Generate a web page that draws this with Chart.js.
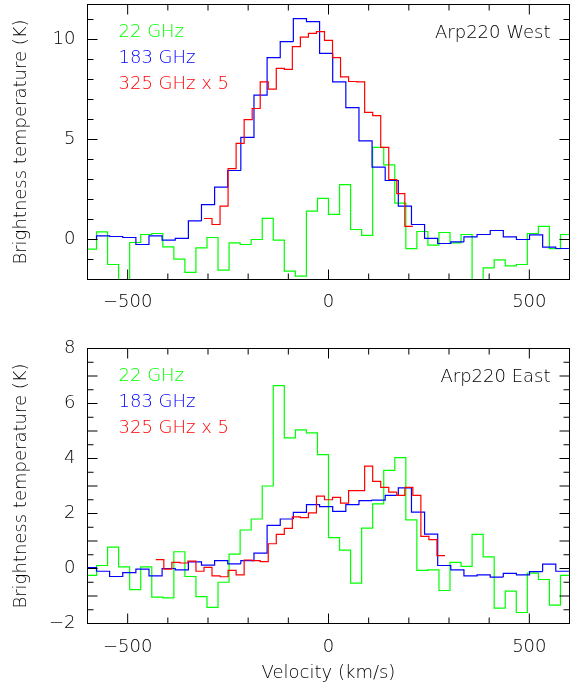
<!DOCTYPE html>
<html>
<head>
<meta charset="utf-8">
<script src="https://cdn.jsdelivr.net/npm/chart.js@4.4.0/dist/chart.umd.min.js"></script>
<style>
html,body{margin:0;padding:0;background:#fff;}
#wrap{position:relative;width:577px;height:688px;}
.cv{position:absolute;left:0;}
</style>
</head>
<body>
<div id="wrap">
<canvas id="west" class="cv" width="577" height="330" style="top:0px"></canvas>
<canvas id="east" class="cv" width="577" height="358" style="top:330px"></canvas>
</div>
<script>
// ---------------- DATA ----------------
const seriesLabels = ['22 GHz', '183 GHz', '325 GHz x 5'];
const panelTitles = ['Arp220 West', 'Arp220 East'];
const xTickLabels = [-500, 0, 500];
const yTickLabelsWest = [0, 5, 10];
const yTickLabelsEast = [-2, 0, 2, 4, 6, 8];
const yAxisTitle = 'Brightness temperature (K)';
const xAxisTitle = 'Velocity (km/s)';

// channel centres (km/s)
const velocity22 = [-591.25, -563.75, -536.25, -508.75, -481.25, -453.75, -426.25, -398.75, -371.25, -343.75,
  -316.25, -288.75, -261.25, -233.75, -206.25, -178.75, -151.25, -123.75, -96.25, -68.75,
  -41.25, -13.75, 13.75, 41.25, 68.75, 96.25, 123.75, 151.25, 178.75, 206.25,
  233.75, 261.25, 288.75, 316.25, 343.75, 371.25, 398.75, 426.25, 453.75, 481.25,
  508.75, 536.25, 563.75, 591.25];
const velocity183 = [-593.9, -561.2, -528.6, -495.9, -463.2, -430.6, -397.9, -365.2, -332.5, -299.9,
  -267.2, -234.5, -201.9, -169.2, -136.5, -103.8, -71.2, -38.5, -5.8, 26.8,
  59.5, 92.2, 124.8, 157.5, 190.2, 222.9, 255.5, 288.2, 320.9, 353.5,
  386.2, 418.9, 451.5, 484.2, 516.9, 549.5, 582.2];
const velocity325West = [-300, -280, -260, -240, -220, -200, -180, -160, -140, -120,
  -100, -80, -60, -40, -20, 0, 20, 40, 60, 80, 100, 120, 140, 160, 180, 200];
const velocity325East = [-420, -400, -380, -360, -340, -320, -300, -280, -260, -240,
  -220, -200, -180, -160, -140, -120, -100, -80, -60, -40, -20, 0, 20, 40, 60,
  80, 100, 120, 140, 160, 180, 200, 220, 240, 260, 280];

// brightness temperatures (K)
const west22 = [-0.48, 0.38, -1.25, -2.6, -0.15, 0.25, 0.3, -0.37, -0.98, -1.64,
  -0.42, 0.1, -1.53, -0.17, -0.25, 0.0, 1.06, -0.03, -1.58, -1.83,
  1.42, 2.06, 1.26, 2.74, 0.5, 0.21, 4.61, 3.73, 1.82, -0.46,
  0.4, -0.28, 0.35, -0.17, 0.25, -2.6, -1.42, -1.02, -1.32, -1.25,
  0.3, 0.66, -0.46, 0.25];
const west183 = [0.0, 0.18, 0.15, 0.1, -0.25, 0.18, -0.03, 0.06, 0.93, 1.74,
  2.62, 3.45, 5.11, 7.22, 9.09, 9.89, 11.04, 10.89, 9.31, 7.88,
  6.59, 4.93, 3.62, 2.95, 1.67, 0.75, 0.06, -0.2, -0.12, 0.13,
  0.25, 0.45, 0.13, 0.0, 0.23, -0.38, -0.45];
const west325x5 = [1.05, 0.75, 1.67, 3.54, 4.81, 5.99, 6.55, 7.88, 7.52, 8.56,
  8.51, 9.64, 10.12, 10.31, 10.39, 9.96, 9.09, 8.13, 7.9, 7.88,
  6.36, 6.19, 4.61, 3.0, 2.29, 0.66];

const east22 = [-0.25, 0.11, 0.78, 0.06, -0.77, 0.06, -1.04, -1.07, 0.61, -0.29,
  -1.02, -1.41, -0.5, 0.52, 1.4, 1.8, 3.0, 6.65, 4.75, 5.04,
  4.93, 4.14, 1.12, 0.67, -0.53, 1.47, 2.35, 3.57, 4.03, 1.77,
  -0.07, -0.05, -0.8, 0.22, 0.08, 1.24, 0.42, -1.44, -0.82, -1.6,
  -0.17, -0.4, -1.33, -0.25];
const east183 = [0.03, -0.1, -0.29, -0.15, -0.02, -0.27, 0.0, -0.05, 0.24, 0.12,
  0.29, 0.17, 0.29, 0.56, 1.57, 1.8, 2.04, 2.32, 2.25, 2.08,
  2.32, 2.47, 2.49, 2.66, 2.93, 2.05, 1.25, 0.11, -0.05, -0.27,
  -0.23, -0.31, -0.18, -0.23, -0.11, 0.16, -0.1];
const east325x5 = [0.32, -0.02, 0.22, 0.2, 0.27, -0.1, 0.04, -0.27, -0.3, -0.07,
  -0.23, 0.31, 0.29, 0.25, 0.9, 1.24, 1.46, 1.88, 1.85, 2.02,
  2.63, 2.5, 2.59, 2.38, 2.83, 2.83, 3.72, 3.17, 2.95, 2.78,
  2.66, 2.95, 2.66, 1.17, 1.05, 0.47];

// ---------------- RENDERING ----------------
const FONT_FAMILY = "'DejaVu Sans', sans-serif";
const FONT_WEIGHT = 200;
const TEXT_COLOR = '#000';
const seriesColors = ['#00ff00', '#0000ff', '#ff0000'];

// histogram outline: each channel contributes its two edges
function histogram(centres, values) {
  const w = centres[1] - centres[0];
  const pts = [];
  centres.forEach((c, i) => {
    pts.push({x: c - w / 2, y: values[i]});
    pts.push({x: c + w / 2, y: values[i]});
  });
  return pts;
}

function fmt(v) {
  return v < 0 ? '\u2212' + Math.abs(v) : String(v);
}

function isMajor(v, major) {
  const r = v / major;
  return Math.abs(r - Math.round(r)) < 1e-6;
}

const panelPlugin = {
  id: 'panel',
  afterDatasetsDraw(chart, args, opts) {
    const ctx = chart.ctx;
    const a = chart.chartArea;
    const xs = chart.scales.x, ys = chart.scales.y;
    ctx.save();
    ctx.strokeStyle = '#000';
    ctx.lineWidth = 1;
    ctx.strokeRect(a.left, a.top, a.right - a.left, a.bottom - a.top);
    ctx.beginPath();
    // x ticks, inward on bottom and top
    for (let i = Math.ceil(xs.min / opts.xStep); i * opts.xStep <= xs.max + 1e-9; i++) {
      const v = i * opts.xStep;
      const px = xs.getPixelForValue(v);
      const len = isMajor(v, opts.xMajor) ? 10 : 6;
      ctx.moveTo(px, a.bottom); ctx.lineTo(px, a.bottom - len);
      ctx.moveTo(px, a.top); ctx.lineTo(px, a.top + len);
    }
    // y ticks, inward on left and right
    for (let i = Math.ceil(ys.min / opts.yStep - 1e-9); i * opts.yStep <= ys.max + 1e-9; i++) {
      const v = i * opts.yStep;
      const py = ys.getPixelForValue(v);
      const len = isMajor(v, opts.yMajor) ? 10 : 6;
      ctx.moveTo(a.left, py); ctx.lineTo(a.left + len, py);
      ctx.moveTo(a.right, py); ctx.lineTo(a.right - len, py);
    }
    ctx.stroke();
    // legend text in series colours
    ctx.font = FONT_WEIGHT + ' 18px ' + FONT_FAMILY;
    ctx.textBaseline = 'alphabetic';
    ctx.textAlign = 'left';
    chart.data.datasets.forEach((ds, i) => {
      ctx.fillStyle = ds.borderColor;
      ctx.fillText(ds.label, a.left + 31, a.top + 32.5 + 26 * i);
    });
    ctx.fillStyle = TEXT_COLOR;
    ctx.textAlign = 'right';
    ctx.fillText(opts.title, a.right - 19, a.top + 33);
    ctx.restore();
  }
};

function makePanel(id, p) {
  const series = [
    histogram(velocity22, p.v22),
    histogram(velocity183, p.v183),
    histogram(p.vel325, p.v325)
  ];
  const datasets = series.map((d, i) => ({
    label: seriesLabels[i],
    data: d,
    borderColor: seriesColors[i],
    borderWidth: 1.2,
    pointRadius: 0,
    tension: 0,
    fill: false,
    clip: 0,
    order: 2 - i
  }));
  const tickFont = {family: FONT_FAMILY, size: 18, weight: FONT_WEIGHT};
  return new Chart(document.getElementById(id), {
    type: 'line',
    data: {datasets},
    options: {
      responsive: false,
      animation: false,
      events: [],
      layout: {padding: {left: 0, right: 7.5, top: p.padTop, bottom: 0}},
      plugins: {
        legend: {display: false},
        tooltip: {enabled: false},
        panel: {title: p.title, xStep: 100, xMajor: 500, yStep: p.yStep, yMajor: p.yMajor}
      },
      scales: {
        x: {
          type: 'linear', min: -600, max: 600,
          grid: {display: false, drawTicks: false},
          border: {display: false},
          ticks: {autoSkip: false, maxRotation: 0, font: tickFont, color: TEXT_COLOR,
                  padding: p.xPad, callback: v => fmt(v)},
          afterBuildTicks: s => { s.ticks = xTickLabels.map(v => ({value: v})); },
          afterFit: s => { s.height = p.xH; s.paddingLeft = 0; s.paddingRight = 0; },
          title: p.showXTitle ? {display: true, text: xAxisTitle, color: TEXT_COLOR,
                  font: tickFont, padding: {top: 0, bottom: 4.2}}
                  : {display: false}
        },
        y: {
          type: 'linear', min: p.yMin, max: p.yMax,
          grid: {display: false, drawTicks: false},
          border: {display: false},
          ticks: {autoSkip: false, font: tickFont, color: TEXT_COLOR, padding: 12,
                  callback: v => fmt(v)},
          afterBuildTicks: s => { s.ticks = p.yTicks.map(v => ({value: v})); },
          afterFit: s => { s.width = 87.5; s.paddingTop = 0; s.paddingBottom = 0; },
          title: {display: true, text: yAxisTitle, color: TEXT_COLOR,
                  font: tickFont, padding: {top: 10.7, bottom: 0}}
        }
      }
    },
    plugins: [panelPlugin]
  });
}

makePanel('west', {
  title: panelTitles[0],
  v22: west22, v183: west183, v325: west325x5, vel325: velocity325West,
  yMin: -2, yMax: 11.75, yTicks: yTickLabelsWest, yStep: 1, yMajor: 5,
  padTop: 4.5, xH: 50.5, xPad: 12.5, showXTitle: false
});
makePanel('east', {
  title: panelTitles[1],
  v22: east22, v183: east183, v325: east325x5, vel325: velocity325East,
  yMin: -2, yMax: 8, yTicks: yTickLabelsEast, yStep: 0.5, yMajor: 1,
  padTop: 18.5, xH: 64.5, xPad: 13.5, showXTitle: true
});
</script>
</body>
</html>
